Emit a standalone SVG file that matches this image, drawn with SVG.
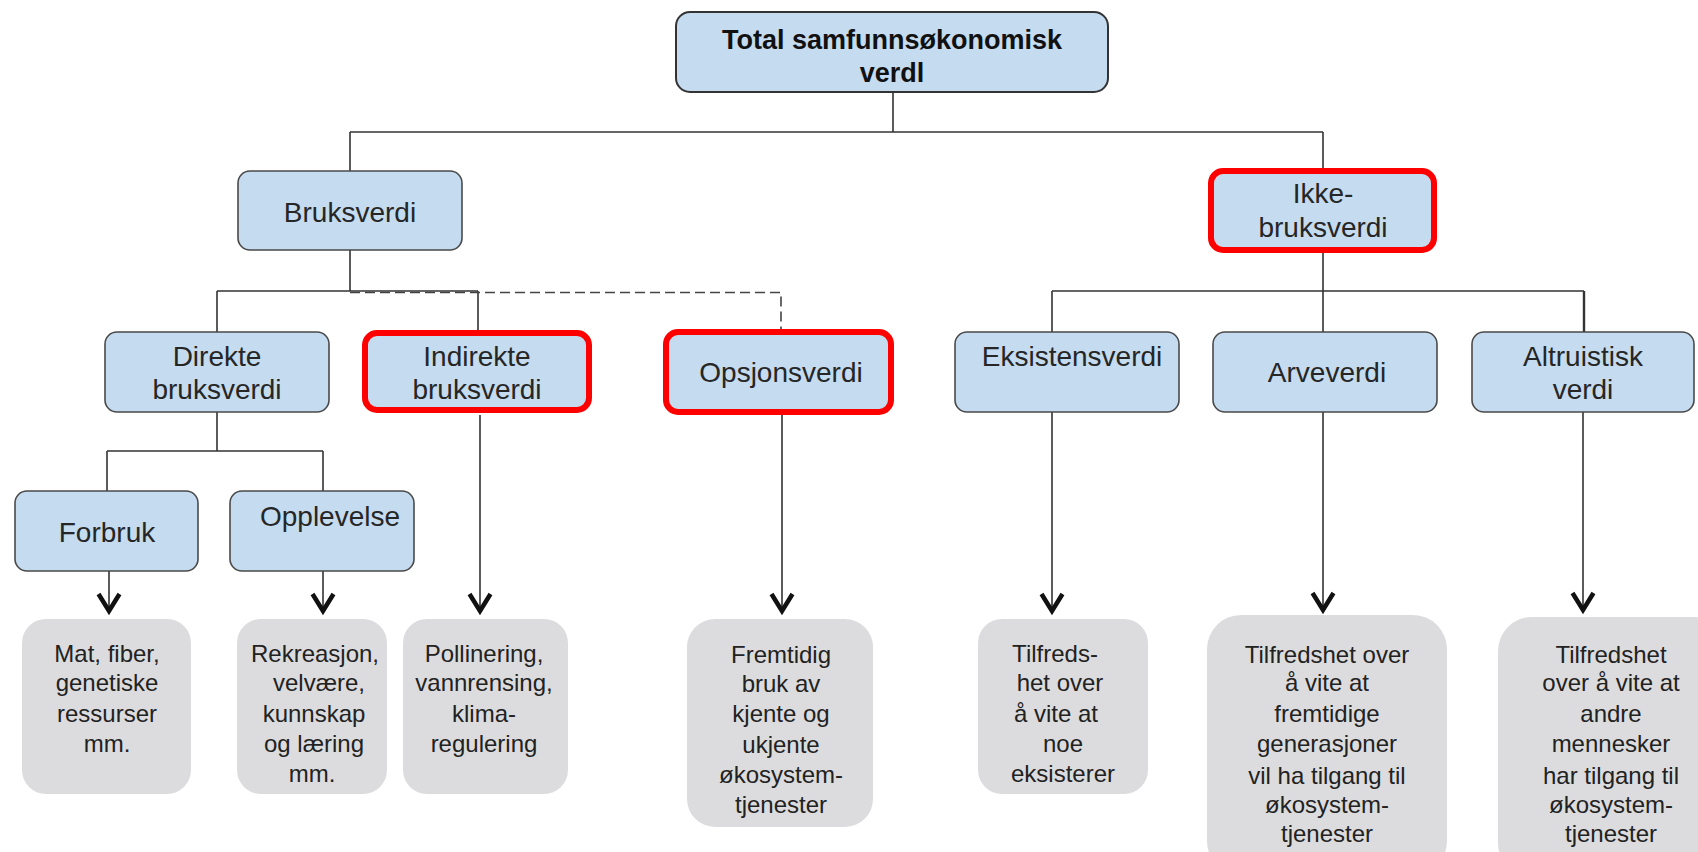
<svg xmlns="http://www.w3.org/2000/svg" width="1698" height="852" viewBox="0 0 1698 852">
<style>
  .bg{fill:#ffffff}
  .blue{fill:#c5dbef;stroke:#4a4a4a;stroke-width:1.6}
  .red{fill:#c5dbef;stroke:#ff0000;stroke-width:6}
  .gray{fill:#dcdcde;stroke:none}
  .t{font-family:"Liberation Sans",Arial,sans-serif;font-size:28px;fill:#262626;text-anchor:middle}
  .tb{font-family:"Liberation Sans",Arial,sans-serif;font-size:27px;font-weight:bold;fill:#111;text-anchor:middle}
  .g{font-family:"Liberation Sans",Arial,sans-serif;font-size:24px;fill:#222;text-anchor:middle}
  .c{fill:none;stroke:#333;stroke-width:1.6}
  .d{fill:none;stroke:#444;stroke-width:1.6;stroke-dasharray:10 5}
  .a{fill:none;stroke:#333;stroke-width:1.6;marker-end:url(#arr)}
</style>
<defs>
  <marker id="arr" markerUnits="userSpaceOnUse" markerWidth="40" markerHeight="40" viewBox="-30 -20 40 40" refX="0" refY="0" orient="auto" overflow="visible">
    <path d="M-19,-10.5 L-2,0 L-19,10.5" fill="none" stroke="#111" stroke-width="4.5"/>
  </marker>
</defs>
<rect class="bg" x="0" y="0" width="1698" height="852"/>

<g id="connectors">
  <path class="c" d="M893 92 V132 M350 132 H1323 M350 132 V171 M1323 132 V171"/>
  <path class="c" d="M350 250 V291 M217 291 H478 M217 291 V332 M478 291 V330"/>
  <path class="d" d="M350 292.5 H781 V329"/>
  <path class="c" d="M1323 253 V291 M1052 291 H1584 M1052 291 V332 M1323 291 V332"/>
  <path class="c" d="M1584 291 V332" style="stroke-width:2.4"/>
  <path class="c" d="M217 412 V451 M107 451 H323 M107 451 V491 M323 451 V491"/>
  <path class="a" d="M109 571 V613"/>
  <path class="a" d="M323 571 V613"/>
  <path class="a" d="M480 415 V613"/>
  <path class="a" d="M782 415 V613"/>
  <path class="a" d="M1052 412 V613"/>
  <path class="a" d="M1323 412 V612"/>
  <path class="a" d="M1583 412 V612"/>
</g>

<g id="total">
  <rect class="blue" x="676" y="12" width="432" height="80" rx="14" style="stroke:#333;stroke-width:2"/>
  <text class="tb" x="892" y="49">Total samfunnsøkonomisk</text>
  <text class="tb" x="892" y="82">verdl</text>
</g>
<g id="bruksverdi">
  <rect class="blue" x="238" y="171" width="224" height="79" rx="12"/>
  <text class="t" x="350" y="222">Bruksverdi</text>
</g>
<g id="ikke-bruksverdi">
  <rect class="red" x="1211" y="171" width="223" height="79" rx="12"/>
  <text class="t" x="1323" y="203">Ikke-</text>
  <text class="t" x="1323" y="237">bruksverdi</text>
</g>
<g id="direkte">
  <rect class="blue" x="105" y="332" width="224" height="80" rx="12"/>
  <text class="t" x="217" y="366">Direkte</text>
  <text class="t" x="217" y="399">bruksverdi</text>
</g>
<g id="indirekte">
  <rect class="red" x="365" y="333" width="224" height="77" rx="12"/>
  <text class="t" x="477" y="366">Indirekte</text>
  <text class="t" x="477" y="399">bruksverdi</text>
</g>
<g id="opsjonsverdi">
  <rect class="red" x="666" y="332" width="225" height="80" rx="12"/>
  <text class="t" x="781" y="382">Opsjonsverdi</text>
</g>
<g id="eksistensverdi">
  <rect class="blue" x="955" y="332" width="224" height="80" rx="12"/>
  <text class="t" x="1072" y="366">Eksistensverdi</text>
</g>
<g id="arveverdi">
  <rect class="blue" x="1213" y="332" width="224" height="80" rx="12"/>
  <text class="t" x="1327" y="382">Arveverdi</text>
</g>
<g id="altruistisk">
  <rect class="blue" x="1472" y="332" width="222" height="80" rx="12"/>
  <text class="t" x="1583" y="366">Altruistisk</text>
  <text class="t" x="1583" y="399">verdi</text>
</g>
<g id="forbruk">
  <rect class="blue" x="15" y="491" width="183" height="80" rx="12"/>
  <text class="t" x="107" y="542">Forbruk</text>
</g>
<g id="opplevelse">
  <rect class="blue" x="230" y="491" width="184" height="80" rx="12"/>
  <text class="t" x="330" y="526">Opplevelse</text>
</g>

<g id="g-forbruk">
  <rect class="gray" x="22" y="619" width="169" height="175" rx="24"/>
  <text class="g" x="107" y="662">Mat, fiber,</text>
  <text class="g" x="107" y="691">genetiske</text>
  <text class="g" x="107" y="722">ressurser</text>
  <text class="g" x="107" y="752">mm.</text>
</g>
<g id="g-opplevelse">
  <rect class="gray" x="237" y="619" width="150" height="175" rx="24"/>
  <text class="g" x="315" y="662">Rekreasjon,</text>
  <text class="g" x="319" y="691">velvære,</text>
  <text class="g" x="314" y="722">kunnskap</text>
  <text class="g" x="314" y="752">og læring</text>
  <text class="g" x="312" y="782">mm.</text>
</g>
<g id="g-indirekte">
  <rect class="gray" x="403" y="619" width="165" height="175" rx="24"/>
  <text class="g" x="484" y="662">Pollinering,</text>
  <text class="g" x="484" y="691">vannrensing,</text>
  <text class="g" x="484" y="722">klima-</text>
  <text class="g" x="484" y="752">regulering</text>
</g>
<g id="g-opsjon">
  <rect class="gray" x="687" y="619" width="186" height="208" rx="28"/>
  <text class="g" x="781" y="663">Fremtidig</text>
  <text class="g" x="781" y="692">bruk av</text>
  <text class="g" x="781" y="722">kjente og</text>
  <text class="g" x="781" y="753">ukjente</text>
  <text class="g" x="781" y="783">økosystem-</text>
  <text class="g" x="781" y="813">tjenester</text>
</g>
<g id="g-eksistens">
  <rect class="gray" x="978" y="619" width="170" height="175" rx="24"/>
  <text class="g" x="1055" y="662">Tilfreds-</text>
  <text class="g" x="1060" y="691">het over</text>
  <text class="g" x="1056" y="722">å vite at</text>
  <text class="g" x="1063" y="752">noe</text>
  <text class="g" x="1063" y="782">eksisterer</text>
</g>
<g id="g-arve">
  <rect class="gray" x="1207" y="615" width="240" height="260" rx="34"/>
  <text class="g" x="1327" y="663">Tilfredshet over</text>
  <text class="g" x="1327" y="691">å vite at</text>
  <text class="g" x="1327" y="722">fremtidige</text>
  <text class="g" x="1327" y="752">generasjoner</text>
  <text class="g" x="1327" y="784">vil ha tilgang til</text>
  <text class="g" x="1327" y="813">økosystem-</text>
  <text class="g" x="1327" y="842">tjenester</text>
</g>
<g id="g-altruistisk">
  <rect class="gray" x="1498" y="617" width="230" height="260" rx="34"/>
  <text class="g" x="1611" y="663">Tilfredshet</text>
  <text class="g" x="1611" y="691">over å vite at</text>
  <text class="g" x="1611" y="722">andre</text>
  <text class="g" x="1611" y="752">mennesker</text>
  <text class="g" x="1611" y="784">har tilgang til</text>
  <text class="g" x="1611" y="813">økosystem-</text>
  <text class="g" x="1611" y="842">tjenester</text>
</g>
</svg>
